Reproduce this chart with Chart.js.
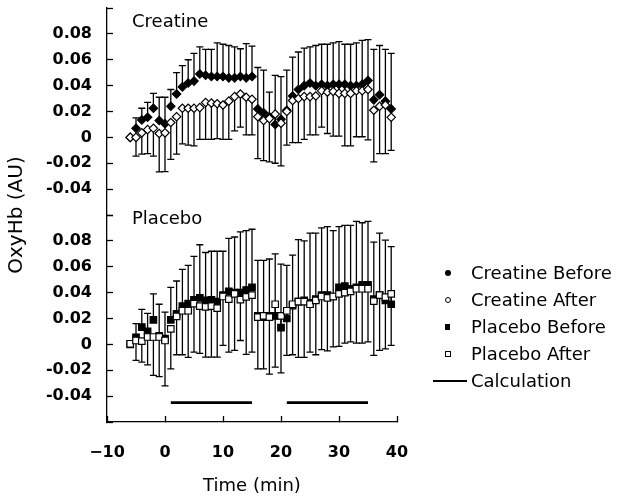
<!DOCTYPE html>
<html>
<head>
<meta charset="utf-8">
<script src="https://cdn.jsdelivr.net/npm/chart.js@4.4.1/dist/chart.umd.min.js"></script>
<style>
  html, body { margin: 0; padding: 0; background: #fff; }
  #wrap { position: relative; width: 620px; height: 498px; }
  #legend { position: absolute; left: 0; top: 0; font-family: "DejaVu Sans"; font-size: 18px; color: #000; }
  .item { position: absolute; left: 425px; height: 22px; line-height: 22px; white-space: nowrap; }
  .item span.txt { position: absolute; left: 46px; top: 0; }
  .mk { position: absolute; box-sizing: border-box; }
  .dot  { left: 20px; top: 8px; width: 6px; height: 6px; border-radius: 50%; background: #000; }
  .ring { left: 20px; top: 8px; width: 6px; height: 6px; border-radius: 50%; border: 1.2px solid #000; }
  .sq   { left: 20px; top: 8px; width: 5px; height: 6px; background: #000; }
  .box  { left: 20px; top: 8px; width: 6px; height: 6px; border: 1.2px solid #000; }
  .bar  { left: 8px; top: 10px; width: 34px; height: 2px; background: #000; }
</style>
</head>
<body>
<div id="wrap">
  <canvas id="myChart" width="620" height="498"></canvas>
  <div id="legend"></div>
</div>
<script>
// OxyHb time course, creatine vs placebo, before / after supplementation

const times = [-6, -5, -4, -3, -2, -1, 0, 1, 2, 3, 4, 5, 6, 7, 8, 9, 10, 11, 12, 13, 14, 15,
  16, 17, 18, 19, 20, 21, 22, 23, 24, 25, 26, 27, 28, 29, 30, 31, 32, 33, 34, 35, 36, 37, 38, 39];

const creatineBefore = [0, 0.007, 0.0135, 0.0155, 0.0225, 0.013, 0.0105,
  0.024, 0.0335, 0.039, 0.042, 0.0435, 0.049, 0.048, 0.047, 0.047, 0.047, 0.046, 0.046, 0.047, 0.046, 0.047,
  0.022, 0.019, 0.016, 0.010, 0.014,
  0.021, 0.032, 0.037, 0.040, 0.042, 0.040, 0.041, 0.040, 0.041, 0.041, 0.041, 0.040, 0.040, 0.041, 0.044,
  0.029, 0.033, 0.028, 0.022];
const creatineBeforeSD = [0, 0.008, 0.009, 0.0115, 0.0115, 0.018, 0.0205,
  0.013, 0.0165, 0.0165, 0.018, 0.0215, 0.021, 0.020, 0.021, 0.026, 0.025, 0.025, 0.024, 0.0215, 0.0265, 0.0235,
  0.032, 0.033, 0.019, 0.038, 0.033,
  0.031, 0.030, 0.029, 0.029, 0.028, 0.031, 0.031, 0.032, 0.032, 0.033, 0.031, 0.032, 0.033, 0.034, 0.0315,
  0.039, 0.038, 0.040, 0.043];

const creatineAfter = [0, 0, 0.0035, 0.006, 0.007, 0.003, 0.0035,
  0.0115, 0.016, 0.0225, 0.0225, 0.0225, 0.023, 0.027, 0.0265, 0.026, 0.025, 0.028, 0.0315, 0.0335, 0.031, 0.0295,
  0.016, 0.013, 0.0145, 0.018, 0.011,
  0.020, 0.0285, 0.030, 0.0315, 0.0315, 0.032, 0.036, 0.035, 0.0355, 0.034, 0.034, 0.034, 0.036, 0.036, 0.037,
  0.021, 0.024, 0.025, 0.0155];
const creatineAfterSD = [0, 0.0145, 0.0165, 0.0185, 0.0215, 0.0297, 0.030,
  0.0285, 0.029, 0.0275, 0.0285, 0.029, 0.0246, 0.0286, 0.028, 0.027, 0.0266, 0.0296, 0.0265, 0.0255, 0.029, 0.0275,
  0.0325, 0.031, 0.0335, 0.038, 0.033,
  0.026, 0.0325, 0.034, 0.033, 0.0295, 0.030, 0.028, 0.032, 0.0345, 0.033, 0.0405, 0.0405, 0.0355, 0.0355, 0.039,
  0.040, 0.0365, 0.0375, 0.0255];

const placeboBefore = [0, 0.0055, 0.0134, 0.010, 0.019, 0.0065, 0.0045,
  0.019, 0.0235, 0.0295, 0.0315, 0.0345, 0.036, 0.034, 0.0345, 0.033, 0.038, 0.041, 0.040, 0.040, 0.042, 0.044,
  0.022, 0.021, 0.022, 0.022, 0.013,
  0.020, 0.030, 0.033, 0.034, 0.032, 0.035, 0.038, 0.038, 0.037, 0.044, 0.045, 0.043, 0.044, 0.046, 0.046,
  0.035, 0.038, 0.034, 0.031];
const placeboBeforeSD = [0, 0.0105, 0.0136, 0.014, 0.020, 0.0245, 0.0205,
  0.025, 0.0255, 0.0285, 0.0295, 0.0335, 0.041, 0.037, 0.0375, 0.039, 0.034, 0.041, 0.043, 0.047, 0.046, 0.045,
  0.043, 0.044, 0.044, 0.048, 0.049,
  0.041, 0.039, 0.048, 0.046, 0.054, 0.051, 0.052, 0.053, 0.051, 0.047, 0.047, 0.049, 0.051, 0.048, 0.049,
  0.044, 0.048, 0.0466, 0.0445];

const placeboAfter = [0.0005, 0.003, 0.0025, 0.0057, 0.0057, 0.0057, 0.003,
  0.012, 0.0217, 0.026, 0.026, 0.0315, 0.0295, 0.029, 0.0295, 0.028, 0.037, 0.035, 0.039, 0.0346, 0.0367, 0.038,
  0.021, 0.022, 0.021, 0.031, 0.022,
  0.026, 0.031, 0.033, 0.033, 0.031, 0.034, 0.037, 0.036, 0.037, 0.039, 0.040, 0.041, 0.043, 0.043, 0.043,
  0.0335, 0.038, 0.0365, 0.039];
const placeboAfterSD = [0, 0.0154, 0.0162, 0.0215, 0.0297, 0.0307, 0.035,
  0.031, 0.0297, 0.034, 0.036, 0.0375, 0.0365, 0.0388, 0.0393, 0.0378, 0.0378, 0.041, 0.0437, 0.0316, 0.0445, 0.044,
  0.040, 0.041, 0.044, 0.0486, 0.044,
  0.0345, 0.039, 0.043, 0.043, 0.037, 0.042, 0.041, 0.041, 0.039, 0.0405, 0.039, 0.039, 0.042, 0.042, 0.041,
  0.042, 0.0427, 0.040, 0.0398];

// calculation windows (min) drawn under the placebo panel
const calcStart = [1, 21];
const calcEnd = [15, 35];
const calcLevel = -0.045;

const panelNames = ['Creatine', 'Placebo'];
const xTickLabels = ['\u221210', '0', '10', '20', '30', '40'];
const yTickLabels = ['', '-0.04', '-0.02', '0', '0.02', '0.04', '0.06', '0.08', ''];

function toPoints(values) {
  return times.map((t, i) => ({ x: t, y: values[i] }));
}

const calcPoints = [];
calcStart.forEach((s, i) => {
  if (i > 0) calcPoints.push({ x: (calcEnd[i - 1] + s) / 2, y: null });
  calcPoints.push({ x: s, y: calcLevel });
  calcPoints.push({ x: calcEnd[i], y: calcLevel });
});

// vertical error bars: up for "Before", down for "After"
const errorBarPlugin = {
  id: 'errorBars',
  beforeDatasetsDraw(chart) {
    const ctx = chart.ctx;
    ctx.save();
    ctx.strokeStyle = '#000';
    ctx.lineWidth = 1.3;
    chart.data.datasets.forEach(ds => {
      if (!ds.errorBars) return;
      const xs = chart.scales[ds.xAxisID];
      const ys = chart.scales[ds.yAxisID];
      ds.data.forEach((p, i) => {
        const sd = ds.errorBars[i];
        if (!sd) return;
        const x = xs.getPixelForValue(p.x);
        const y0 = ys.getPixelForValue(p.y);
        const y1 = ys.getPixelForValue(p.y + ds.errorDir * sd);
        ctx.beginPath();
        ctx.moveTo(x, y0);
        ctx.lineTo(x, y1);
        ctx.moveTo(x - 3.5, y1);
        ctx.lineTo(x + 3.5, y1);
        ctx.stroke();
      });
    });
    ctx.restore();
  }
};

// "Creatine" / "Placebo" labels in the top left of each panel
const panelLabelPlugin = {
  id: 'panelLabels',
  afterDraw(chart) {
    const ctx = chart.ctx;
    const left = chart.chartArea.left;
    ctx.save();
    ctx.font = '18px "DejaVu Sans"';
    ctx.fillStyle = '#000';
    ctx.textBaseline = 'middle';
    ctx.fillText(panelNames[0], left + 25, chart.scales.yC.getPixelForValue(0.089));
    ctx.fillText(panelNames[1], left + 25, chart.scales.yP.getPixelForValue(0.097));
    ctx.restore();
  }
};

const yPanel = (labels) => ({
  type: 'linear',
  position: 'left',
  stack: 'oxy',
  stackWeight: 1,
  min: -0.06,
  max: 0.1,
  border: { display: true, color: '#000', width: 1.3 },
  grid: { drawOnChartArea: false, drawTicks: true, tickLength: -6, tickColor: '#000', tickWidth: 1.3 },
  ticks: {
    stepSize: 0.02,
    autoSkip: false,
    padding: 21,
    color: '#000',
    font: { family: 'DejaVu Sans', size: 16, weight: 'bold' },
    callback: (v, i) => labels[i]
  },
  afterFit: (s) => { s.width = 61; s.paddingTop = 0; s.paddingBottom = 0; }
});

function markerSet(label, values, sd, dir, yAxis, style, fill) {
  return {
    label: label,
    data: toPoints(values),
    errorBars: sd,
    errorDir: dir,
    xAxisID: 'x',
    yAxisID: yAxis,
    showLine: false,
    pointStyle: style,
    pointRadius: style === 'rect' ? 4.6 : 4.2,
    pointBackgroundColor: fill,
    pointBorderColor: '#000',
    pointBorderWidth: 1.2
  };
}

const ctx = document.getElementById('myChart');
const myChart = new Chart(ctx, {
  type: 'scatter',
  data: {
    datasets: [
      markerSet('Creatine After', creatineAfter, creatineAfterSD, -1, 'yC', 'rectRot', '#fff'),
      markerSet('Creatine Before', creatineBefore, creatineBeforeSD, 1, 'yC', 'rectRot', '#000'),
      markerSet('Placebo After', placeboAfter, placeboAfterSD, -1, 'yP', 'rect', '#fff'),
      markerSet('Placebo Before', placeboBefore, placeboBeforeSD, 1, 'yP', 'rect', '#000'),
      {
        label: 'Calculation',
        data: calcPoints,
        xAxisID: 'x',
        yAxisID: 'yP',
        showLine: true,
        spanGaps: false,
        borderColor: '#000',
        borderWidth: 2.6,
        pointRadius: 0
      }
    ]
  },
  options: {
    responsive: false,
    animation: false,
    layout: { padding: { top: 8, left: 5, right: 223, bottom: 0 } },
    plugins: { legend: { display: false }, tooltip: { enabled: false } },
    scales: {
      // left boxes are laid out in reverse order: last one here ends up outermost / on top
      yP: yPanel(yTickLabels),
      yC: yPanel(yTickLabels),
      yT: {                               // holds only the shared y title
        type: 'linear',
        position: 'left',
        grid: { display: false, drawTicks: false },
        border: { display: false },
        ticks: { display: false },
        title: {
          display: true,
          text: 'OxyHb (AU)',
          color: '#000',
          font: { family: 'DejaVu Sans', size: 20 },
          padding: { top: 0, bottom: 0 }
        },
        afterFit: (s) => { s.width = 41; }
      },
      x: {
        type: 'linear',
        position: 'bottom',
        min: -10,
        max: 40,
        border: { display: true, color: '#000', width: 1.3 },
        grid: { drawOnChartArea: false, drawTicks: true, tickLength: -6, tickColor: '#000', tickWidth: 1.3 },
        ticks: {
          stepSize: 10,
          padding: 27,
          color: '#000',
          maxRotation: 0,
          font: { family: 'DejaVu Sans', size: 16, weight: 'bold' },
          callback: (v, i) => xTickLabels[i]
        },
        title: {
          display: true,
          text: 'Time (min)',
          color: '#000',
          font: { family: 'DejaVu Sans', size: 18 },
          padding: { top: 0, bottom: 1 }
        },
        afterFit: (s) => { s.height = 76; }
      }
    }
  },
  plugins: [errorBarPlugin, panelLabelPlugin]
});

// legend, built from the datasets
const legendOrder = ['Creatine Before', 'Creatine After', 'Placebo Before', 'Placebo After', 'Calculation'];
const legendMarks = { 'Creatine Before': 'dot', 'Creatine After': 'ring', 'Placebo Before': 'sq', 'Placebo After': 'box', 'Calculation': 'bar' };
const legendEl = document.getElementById('legend');
legendOrder.forEach((name, i) => {
  const ds = myChart.data.datasets.find(d => d.label === name);
  const item = document.createElement('div');
  item.className = 'item';
  item.style.top = (262 + i * 27) + 'px';
  item.innerHTML = '<span class="mk ' + legendMarks[name] + '"></span><span class="txt">' + ds.label + '</span>';
  legendEl.appendChild(item);
});
</script>
</body>
</html>
